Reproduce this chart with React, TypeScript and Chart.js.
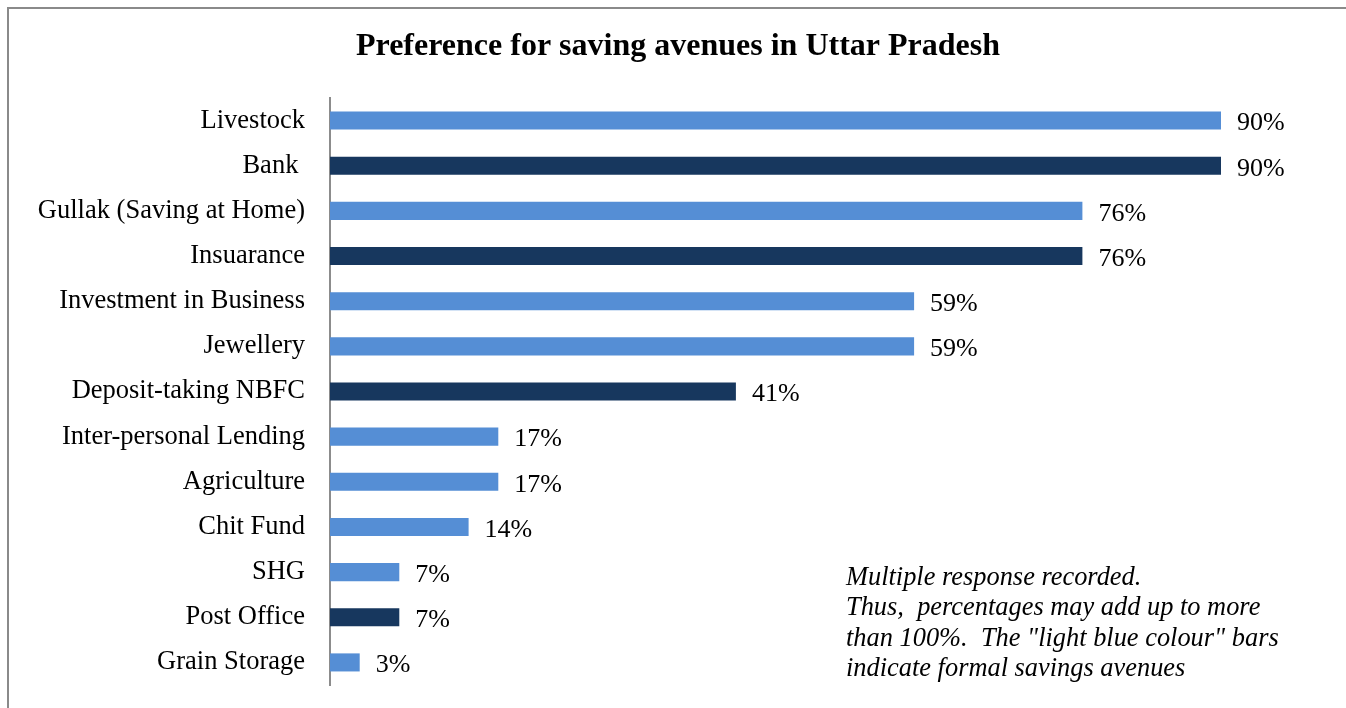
import React, { useEffect, useRef } from "react";
import { Chart, registerables } from "chart.js";

Chart.register(...registerables);

const categories = [
  "Livestock",
  "Bank ",
  "Gullak (Saving at Home)",
  "Insuarance",
  "Investment in Business",
  "Jewellery",
  "Deposit-taking NBFC",
  "Inter-personal Lending",
  "Agriculture",
  "Chit Fund",
  "SHG",
  "Post Office",
  "Grain Storage",
];
const values = [90, 90, 76, 76, 59, 59, 41, 17, 17, 14, 7, 7, 3];
const barGroup = ["light", "dark", "light", "dark", "light", "light", "dark", "light", "light", "light", "light", "dark", "light"];
const chartTitle = "Preference for saving avenues in Uttar Pradesh";
const noteLines = [
  "Multiple response recorded.",
  "Thus,  percentages may add up to more",
  "than 100%.  The \"light blue colour\" bars",
  "indicate formal savings avenues",
];

const LIGHT = "#558ED5";
const DARK = "#17375E";
const SERIF = '"Liberation Serif", "Times New Roman", serif';

export default function App() {
  const ref = useRef<HTMLCanvasElement | null>(null);

  useEffect(() => {
    const canvas = ref.current;
    if (!canvas) return;
    const overlay = {
      id: "overlay",
      afterDatasetsDraw(chart: any) {
        const ctx = chart.ctx;
        const meta = chart.getDatasetMeta(0);
        ctx.save();
        ctx.fillStyle = "#000";
        ctx.font = `26px ${SERIF}`;
        ctx.textAlign = "left";
        ctx.textBaseline = "middle";
        meta.data.forEach((bar: any, i: number) => {
          ctx.fillText(values[i] + "%", bar.x + 16, bar.y + 3);
        });
        ctx.restore();
      },
      afterDraw(chart: any) {
        const ctx = chart.ctx;
        ctx.save();
        ctx.fillStyle = "#000";
        ctx.font = `bold 32px ${SERIF}`;
        ctx.textAlign = "center";
        ctx.textBaseline = "middle";
        ctx.fillText(chartTitle, 678, 47);
        ctx.font = `italic 26.4px ${SERIF}`;
        ctx.textAlign = "left";
        noteLines.forEach((l, i) => {
          ctx.fillText(l, 846, 578 + i * 30.5);
        });
        ctx.restore();
      },
    };
    const chart = new Chart(canvas, {
      type: "bar",
      data: {
        labels: categories,
        datasets: [
          {
            data: values,
            backgroundColor: barGroup.map((g) => (g === "light" ? LIGHT : DARK)),
            barPercentage: 0.4,
            categoryPercentage: 1,
          },
        ],
      },
      options: {
        indexAxis: "y",
        responsive: false,
        animation: false,
        devicePixelRatio: 1,
        layout: { padding: { top: 98, bottom: 23, right: 26, left: 0 } },
        plugins: { legend: { display: false }, tooltip: { enabled: false }, title: { display: false } },
        scales: {
          x: { display: false, min: 0, max: 100 },
          y: {
            grid: { display: false, drawTicks: false },
            border: { display: true, color: "#8c8c8c", width: 2 },
            ticks: { color: "#000", font: { family: SERIF, size: 26.5 }, padding: 25 },
            afterFit(scale: any) {
              scale.width = 330;
              scale.paddingTop = 0;
              scale.paddingBottom = 0;
            },
          },
        },
      },
      plugins: [overlay],
    } as any);
    return () => chart.destroy();
  }, []);

  return (
    <div style={{ position: "fixed", left: 0, top: 0, width: 1346, height: 708, overflow: "hidden", background: "#fff" }}>
      <div
        style={{
          position: "absolute",
          left: 7,
          top: 7,
          width: 2000,
          height: 2000,
          border: "2px solid #8a8a8a",
        }}
      />
      <canvas ref={ref} width={1346} height={708} style={{ position: "absolute", left: 0, top: 0 }} />
    </div>
  );
}
